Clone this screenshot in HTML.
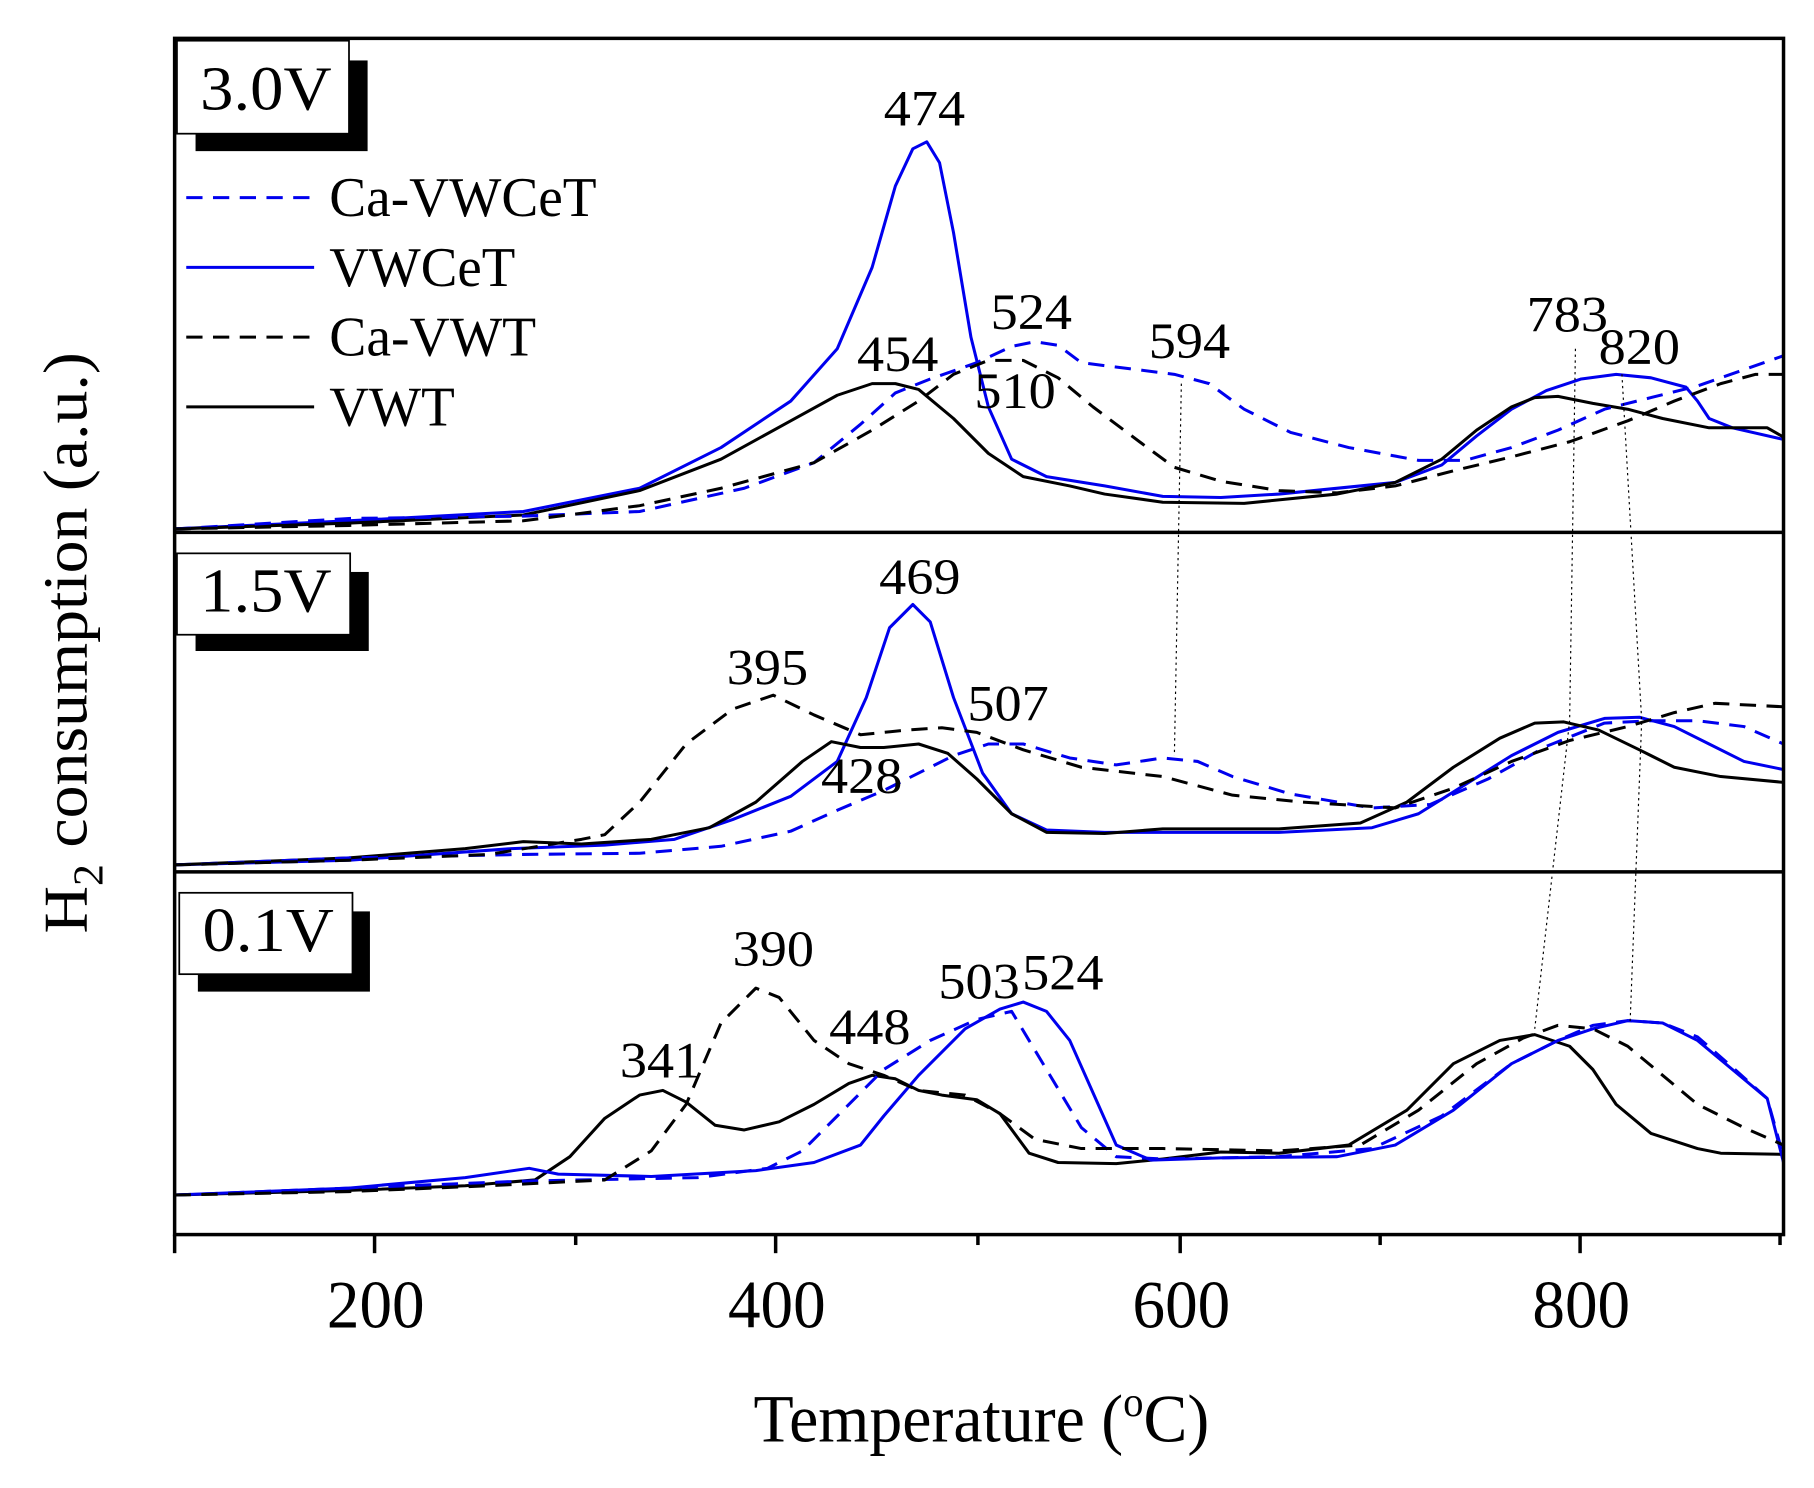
<!DOCTYPE html>
<html><head><meta charset="utf-8"><style>html,body{margin:0;padding:0;background:#fff}svg{display:block}</style></head>
<body>
<svg width="1814" height="1488" viewBox="0 0 1560 1280" xmlns="http://www.w3.org/2000/svg" font-family="'Liberation Serif', serif">
<rect width="1560" height="1280" fill="#fff"/>
<g fill="none" stroke-width="2.6" stroke-linejoin="round">
<polyline stroke="#0000ee" points="150,455 300,448 450,440 550,420 620,385 680,345 720,300 750,230 770,160 785,128 797,122 808,140 820,200 835,290 850,350 870,395 900,410 950,418 1000,427 1050,428 1100,425 1200,415 1240,400 1270,375 1300,352 1330,336 1360,326 1390,322 1420,325 1450,333 1460,345 1470,360 1490,368 1534,378"/>
<polyline stroke="#000" points="150,455 300,450 450,443 550,422 620,395 680,362 720,340 750,330 770,330 790,335 820,360 850,390 880,410 920,418 950,425 1000,432 1070,433 1150,425 1200,415 1240,395 1270,370 1300,350 1320,342 1340,341 1370,347 1400,352 1430,360 1470,368 1520,368 1534,376"/>
<polyline stroke="#0000ee" stroke-dasharray="14,9" points="150,455 300,446 450,444 550,440 640,420 700,398 740,365 770,338 800,326 840,312 870,298 890,294 910,297 930,312 970,317 1010,322 1040,330 1070,352 1110,372 1160,385 1220,396 1260,396 1300,385 1340,370 1380,352 1420,342 1460,332 1500,318 1534,306"/>
<polyline stroke="#000" stroke-dasharray="14,9" points="150,455 300,452 450,448 550,435 620,420 700,398 750,370 790,345 820,322 850,310 880,310 910,325 940,350 980,380 1010,402 1050,414 1100,422 1150,424 1200,418 1250,405 1300,393 1350,380 1400,362 1440,345 1480,330 1510,322 1534,322"/>
<polyline stroke="#0000ee" points="150,744 300,740 440,730 520,727 580,722 630,705 680,685 720,655 745,600 765,540 785,520 800,535 820,600 845,665 870,700 900,714 950,716 1000,716 1100,716 1180,712 1220,700 1260,675 1300,650 1340,630 1380,618 1410,617 1440,625 1470,640 1500,655 1534,662"/>
<polyline stroke="#000" points="150,744 300,738 400,730 450,724 500,726 560,722 610,712 650,690 690,655 715,638 740,643 760,643 790,640 815,648 840,670 870,700 900,716 950,717 1000,713 1100,713 1170,708 1210,690 1250,660 1290,635 1320,622 1345,621 1375,628 1410,645 1440,660 1480,668 1534,673"/>
<polyline stroke="#0000ee" stroke-dasharray="14,9" points="150,744 300,738 450,735 550,734 620,728 680,715 720,697 760,680 790,665 820,650 850,640 880,640 920,652 960,658 1000,652 1030,655 1060,668 1110,683 1180,695 1230,692 1280,670 1330,642 1380,622 1420,620 1460,620 1500,625 1534,640"/>
<polyline stroke="#000" stroke-dasharray="14,9" points="150,744 300,740 420,735 500,722 520,718 550,690 590,640 630,610 665,598 700,615 740,632 780,628 810,626 840,630 880,645 930,660 1000,668 1060,684 1120,690 1200,695 1250,678 1300,655 1350,637 1400,625 1440,613 1475,605 1534,608"/>
<polyline stroke="#000" points="150,1028 300,1024 400,1020 460,1015 490,995 520,962 550,942 570,938 590,948 615,968 640,972 670,965 700,950 730,932 750,925 770,928 790,938 810,942 840,946 860,958 885,992 910,1000 960,1001 1000,997 1050,991 1100,992 1160,985 1210,955 1250,915 1290,895 1320,890 1350,900 1370,920 1390,950 1420,975 1460,988 1480,992 1534,993"/>
<polyline stroke="#0000ee" points="150,1028 300,1022 400,1013 455,1005 480,1010 560,1012 650,1007 700,1000 740,985 760,960 790,925 830,885 860,868 880,862 900,870 920,895 940,940 960,985 990,998 1050,996 1150,995 1200,985 1250,955 1300,915 1340,895 1370,885 1400,878 1430,880 1460,895 1490,920 1520,945 1534,1000"/>
<polyline stroke="#0000ee" stroke-dasharray="14,9" points="150,1028 300,1022 450,1016 600,1013 660,1005 690,990 720,960 760,920 800,895 840,877 870,870 885,895 900,920 930,970 960,995 1000,997 1100,995 1180,988 1240,960 1300,915 1340,895 1370,882 1400,878 1430,880 1460,892 1490,918 1520,945 1534,995"/>
<polyline stroke="#000" stroke-dasharray="14,9" points="150,1028 300,1025 420,1020 520,1015 560,990 590,950 620,880 650,850 670,858 700,895 730,915 760,925 790,938 830,942 860,958 890,980 930,988 1000,988 1100,990 1170,985 1220,955 1270,915 1310,893 1340,882 1370,885 1400,900 1430,925 1460,950 1500,970 1534,985"/>
</g>
<g fill="none" stroke="#000" stroke-width="1" stroke-dasharray="2,3">
<polyline points="1016,330 1010,650"/>
<polyline points="1355,300 1350,620 1320,885"/>
<polyline points="1395,322 1412,620 1402,880"/>
</g>
<g stroke="#000" stroke-width="3" fill="none">
<rect x="150" y="33" width="1384" height="1029"/>
<line x1="150" y1="458" x2="1534" y2="458"/>
<line x1="150" y1="750" x2="1534" y2="750"/>
<line x1="150" y1="1062" x2="150" y2="1078"/>
<line x1="322" y1="1062" x2="322" y2="1078"/>
<line x1="667" y1="1062" x2="667" y2="1078"/>
<line x1="1015" y1="1062" x2="1015" y2="1078"/>
<line x1="1359" y1="1062" x2="1359" y2="1078"/>
<line x1="495" y1="1062" x2="495" y2="1071"/>
<line x1="841" y1="1062" x2="841" y2="1071"/>
<line x1="1187" y1="1062" x2="1187" y2="1071"/>
<line x1="1531" y1="1062" x2="1531" y2="1071"/>
</g>
<rect x="168" y="52" width="148" height="78" fill="#000"/>
<rect x="152" y="35" width="148" height="80" fill="#fff" stroke="#000" stroke-width="1.5"/>
<text x="172" y="94" font-size="54" textLength="113" lengthAdjust="spacingAndGlyphs">3.0V</text>
<rect x="168" y="492" width="149" height="68" fill="#000"/>
<rect x="152" y="476" width="149" height="70" fill="#fff" stroke="#000" stroke-width="1.5"/>
<text x="172" y="526" font-size="54" textLength="113" lengthAdjust="spacingAndGlyphs">1.5V</text>
<rect x="170" y="784" width="148" height="69" fill="#000"/>
<rect x="154" y="768" width="149" height="70" fill="#fff" stroke="#000" stroke-width="1.5"/>
<text x="174" y="818" font-size="54" textLength="113" lengthAdjust="spacingAndGlyphs">0.1V</text>
<g stroke-width="2.6">
<line x1="160" y1="170" x2="270" y2="170" stroke="#0000ee" stroke-dasharray="14,9"/>
<line x1="160" y1="230" x2="270" y2="230" stroke="#0000ee"/>
<line x1="160" y1="290" x2="270" y2="290" stroke="#000" stroke-dasharray="14,9"/>
<line x1="160" y1="350" x2="270" y2="350" stroke="#000"/>
</g>
<g font-size="48" lengthAdjust="spacingAndGlyphs">
<text x="283" y="186" textLength="230" lengthAdjust="spacingAndGlyphs">Ca-VWCeT</text>
<text x="283" y="246" textLength="160" lengthAdjust="spacingAndGlyphs">VWCeT</text>
<text x="283" y="306" textLength="178" lengthAdjust="spacingAndGlyphs">Ca-VWT</text>
<text x="283" y="366" textLength="108" lengthAdjust="spacingAndGlyphs">VWT</text>
</g>
<g font-size="44">
<text x="760" y="108" textLength="70" lengthAdjust="spacingAndGlyphs">474</text>
<text x="852" y="283" textLength="70" lengthAdjust="spacingAndGlyphs">524</text>
<text x="988" y="308" textLength="70" lengthAdjust="spacingAndGlyphs">594</text>
<text x="737" y="319" textLength="70" lengthAdjust="spacingAndGlyphs">454</text>
<text x="838" y="351" textLength="70" lengthAdjust="spacingAndGlyphs">510</text>
<text x="1313" y="285" textLength="70" lengthAdjust="spacingAndGlyphs">783</text>
<text x="1375" y="313" textLength="70" lengthAdjust="spacingAndGlyphs">820</text>
<text x="756" y="511" textLength="70" lengthAdjust="spacingAndGlyphs">469</text>
<text x="625" y="589" textLength="70" lengthAdjust="spacingAndGlyphs">395</text>
<text x="832" y="620" textLength="70" lengthAdjust="spacingAndGlyphs">507</text>
<text x="706" y="682" textLength="70" lengthAdjust="spacingAndGlyphs">428</text>
<text x="630" y="831" textLength="70" lengthAdjust="spacingAndGlyphs">390</text>
<text x="533" y="927" textLength="70" lengthAdjust="spacingAndGlyphs">341</text>
<text x="713" y="898" textLength="70" lengthAdjust="spacingAndGlyphs">448</text>
<text x="807" y="859" textLength="70" lengthAdjust="spacingAndGlyphs">503</text>
<text x="879" y="851" textLength="70" lengthAdjust="spacingAndGlyphs">524</text>
</g>
<g font-size="58">
<text x="281" y="1142" textLength="84" lengthAdjust="spacingAndGlyphs">200</text>
<text x="626" y="1142" textLength="84" lengthAdjust="spacingAndGlyphs">400</text>
<text x="974" y="1142" textLength="84" lengthAdjust="spacingAndGlyphs">600</text>
<text x="1318" y="1142" textLength="84" lengthAdjust="spacingAndGlyphs">800</text>
</g>
<text x="648" y="1240" font-size="58" textLength="392" lengthAdjust="spacingAndGlyphs">Temperature (<tspan font-size="36" dy="-22">o</tspan><tspan dy="22">C)</tspan></text>
<text transform="translate(74,803) rotate(-90)" font-size="54" textLength="500" lengthAdjust="spacingAndGlyphs">H<tspan font-size="36" dy="14">2</tspan><tspan dy="-14"> consumption (a.u.)</tspan></text>
</svg>
</body></html>
